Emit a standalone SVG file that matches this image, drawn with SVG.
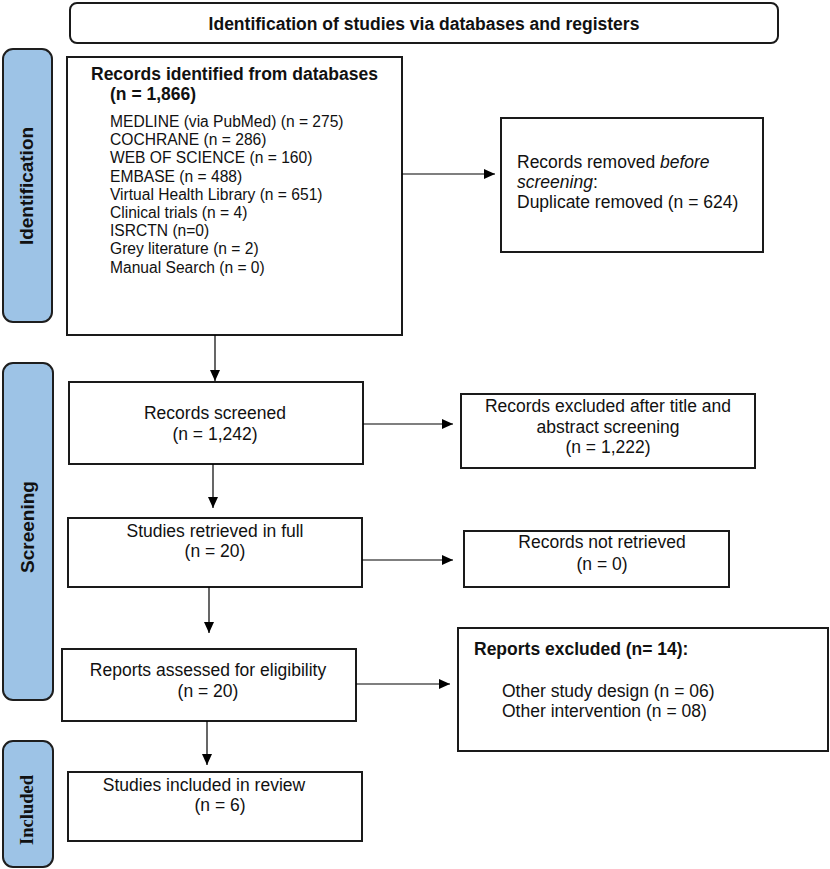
<svg xmlns="http://www.w3.org/2000/svg" width="830" height="869" viewBox="0 0 830 869">
<defs>
<marker id="ah" markerUnits="userSpaceOnUse" markerWidth="12" markerHeight="11" refX="11" refY="5" orient="auto">
<path d="M0,0 L11,5 L0,10 z" fill="#000"/>
</marker>
<style>
.box{fill:#fff;stroke:#1a1a1a;stroke-width:2}
.tab{fill:#9dc3e6;stroke:#1e1e1e;stroke-width:2}
.t{font-family:"Liberation Sans",Arial,sans-serif;font-size:17.5px;fill:#111}
.b{font-weight:bold}
.s{font-size:15.6px}
.m{text-anchor:middle}
.tl{font-family:"Liberation Sans",Arial,sans-serif;font-size:19px;font-weight:bold;fill:#111;text-anchor:middle}
.conn line{stroke:#000;stroke-width:1.2;marker-end:url(#ah)}
</style>
</defs>
<rect width="830" height="869" fill="#fff"/>

<g id="title">
<rect x="70" y="3" width="708" height="40" rx="7" class="box" stroke-width="1.6"/>
<text x="424" y="30" class="t b m">Identification of studies via databases and registers</text>
</g>

<g id="tab-identification">
<rect x="3" y="49" width="49" height="273" rx="10" class="tab"/>
<text transform="translate(33,186) rotate(-90)" class="tl">Identification</text>
</g>
<g id="tab-screening">
<rect x="3" y="363" width="50" height="337" rx="10" class="tab"/>
<text transform="translate(34,527) rotate(-90)" class="tl">Screening</text>
</g>
<g id="tab-included">
<rect x="3" y="741" width="50" height="126" rx="10" class="tab"/>
<text transform="translate(33,810) rotate(-90)" class="tl" style="font-family:'Liberation Serif','Times New Roman',serif;font-size:18.5px">Included</text>
</g>

<g id="records-identified">
<rect x="67" y="57" width="335" height="278" class="box"/>
<text x="91" y="80" class="t b">Records identified from databases</text>
<text x="110" y="100" class="t b">(n = 1,866)</text>
<text class="t s">
<tspan x="110" y="127">MEDLINE (via PubMed) (n = 275)</tspan>
<tspan x="110" y="145.2">COCHRANE (n = 286)</tspan>
<tspan x="110" y="163.4">WEB OF SCIENCE (n = 160)</tspan>
<tspan x="110" y="181.6">EMBASE (n = 488)</tspan>
<tspan x="110" y="199.8">Virtual Health Library (n = 651)</tspan>
<tspan x="110" y="218">Clinical trials (n = 4)</tspan>
<tspan x="110" y="236.2">ISRCTN (n=0)</tspan>
<tspan x="110" y="254.4">Grey literature (n = 2)</tspan>
<tspan x="110" y="272.6">Manual Search (n = 0)</tspan>
</text>
</g>

<g id="records-removed">
<rect x="501" y="118" width="262" height="134" class="box"/>
<text class="t">
<tspan x="517" y="168">Records removed <tspan font-style="italic">before</tspan></tspan>
<tspan x="517" y="188"><tspan font-style="italic">screening</tspan>:</tspan>
<tspan x="517" y="208">Duplicate removed (n = 624)</tspan>
</text>
</g>

<g id="records-screened">
<rect x="69" y="382" width="294" height="82" class="box"/>
<text class="t m"><tspan x="215" y="419">Records screened</tspan><tspan x="215" y="440">(n = 1,242)</tspan></text>
</g>

<g id="records-excluded">
<rect x="461" y="394" width="294" height="74" class="box"/>
<text class="t m"><tspan x="608" y="412">Records excluded after title and</tspan><tspan x="608" y="433">abstract screening</tspan><tspan x="608" y="453">(n = 1,222)</tspan></text>
</g>

<g id="studies-retrieved">
<rect x="68" y="518" width="294" height="69" class="box"/>
<text class="t m"><tspan x="215" y="537">Studies retrieved in full</tspan><tspan x="215" y="557">(n = 20)</tspan></text>
</g>

<g id="records-not-retrieved">
<rect x="464" y="531" width="265" height="56" class="box"/>
<text class="t m"><tspan x="602" y="548">Records not retrieved</tspan><tspan x="602" y="570">(n = 0)</tspan></text>
</g>

<g id="reports-assessed">
<rect x="62" y="649" width="294" height="72" class="box"/>
<text class="t m"><tspan x="208" y="676">Reports assessed for eligibility</tspan><tspan x="208" y="697">(n = 20)</tspan></text>
</g>

<g id="reports-excluded">
<rect x="458" y="628" width="370" height="123" class="box"/>
<text x="474" y="655" class="t b">Reports excluded (n= 14):</text>
<text class="t"><tspan x="502" y="697">Other study design (n = 06)</tspan><tspan x="502" y="717">Other intervention (n = 08)</tspan></text>
</g>

<g id="studies-included">
<rect x="68" y="772" width="294" height="69" class="box"/>
<text class="t m"><tspan x="204" y="791">Studies included in review</tspan><tspan x="220" y="811">(n = 6)</tspan></text>
</g>

<g id="connectors" class="conn">
<line x1="402" y1="174" x2="495" y2="174"/>
<line x1="215" y1="335" x2="215" y2="381"/>
<line x1="363" y1="424" x2="453" y2="424"/>
<line x1="213" y1="464" x2="213" y2="508"/>
<line x1="362" y1="560" x2="453" y2="560"/>
<line x1="209" y1="587" x2="209" y2="633"/>
<line x1="356" y1="684" x2="450" y2="684"/>
<line x1="207" y1="721" x2="207" y2="765"/>
</g>
</svg>
